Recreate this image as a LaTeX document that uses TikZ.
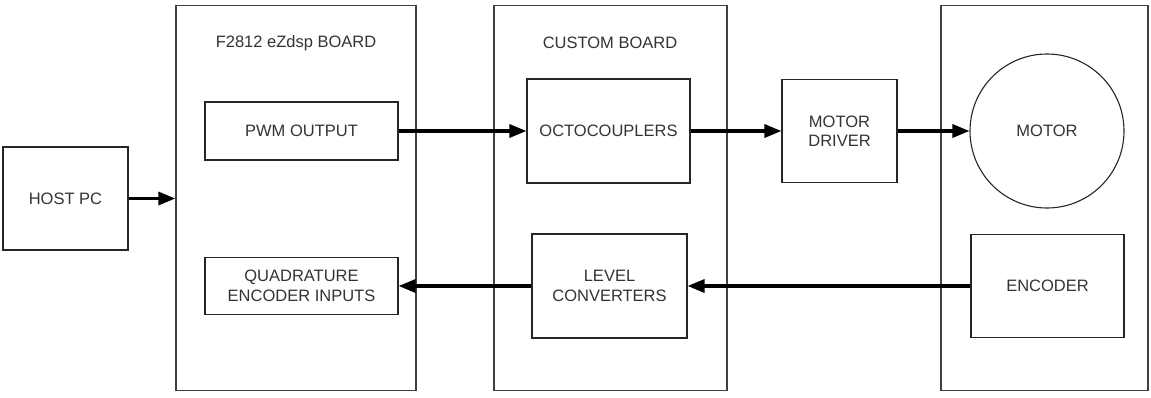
\documentclass[tikz,border=0pt]{standalone}
\usepackage{fontspec}
\setmainfont{Liberation Sans}
\usetikzlibrary{arrows.meta}
\begin{document}
\begin{tikzpicture}[x=1pt,y=-1pt,
  every node/.style={font=\fontsize{16.5}{19.5}\selectfont, text=black!80},
  board/.style={draw=black!75, line width=1.3pt, inner sep=0pt},
  unit/.style={draw=black!85, line width=1.1pt, inner sep=0pt, align=center},
  arr/.style={line width=3.2pt, -{Triangle[length=17pt,width=13pt]}}]
\useasboundingbox (0,0) rectangle (1151,397);
% enclosing boards
\node[board, minimum width=240, minimum height=385] (dsp)  at (296,198) {};
\node[board, minimum width=233, minimum height=385] (cust) at (610.5,198) {};
\node[board, minimum width=207, minimum height=385] (mech) at (1044.5,198) {};
\node (dsptitle)  at (296,43) {F2812 eZdsp BOARD};
\node (custtitle) at (610,43) {CUSTOM BOARD};
% functional blocks
\node[unit, minimum width=125, minimum height=103] (host)   at (65.5,198.5) {HOST PC};
\node[unit, minimum width=193, minimum height=58]  (pwm)    at (301.5,131) {PWM OUTPUT};
\node[unit, minimum width=193, minimum height=57]  (quad)   at (301.5,286) {QUADRATURE\\ENCODER INPUTS};
\node[unit, minimum width=163, minimum height=104] (octo)   at (608.5,131) {OCTOCOUPLERS};
\node[unit, minimum width=155, minimum height=104] (level)  at (609.5,286) {LEVEL\\CONVERTERS};
\node[unit, minimum width=115, minimum height=103] (driver) at (839.5,131) {MOTOR\\DRIVER};
\node[unit, circle, minimum size=154]              (motor)  at (1047,131) {MOTOR};
\node[unit, minimum width=153, minimum height=103] (enc)    at (1047.5,286) {ENCODER};
% signal flow
\draw[arr] (host.east) -- (host.east -| dsp.west);
\draw[arr] (pwm.east) -- (octo.west);
\draw[arr] (octo.east) -- (driver.west);
\draw[arr] (driver.east) -- (motor.west);
\draw[arr] (enc.west) -- (level.east);
\draw[arr] (level.west) -- (quad.east);
\end{tikzpicture}
\end{document}
